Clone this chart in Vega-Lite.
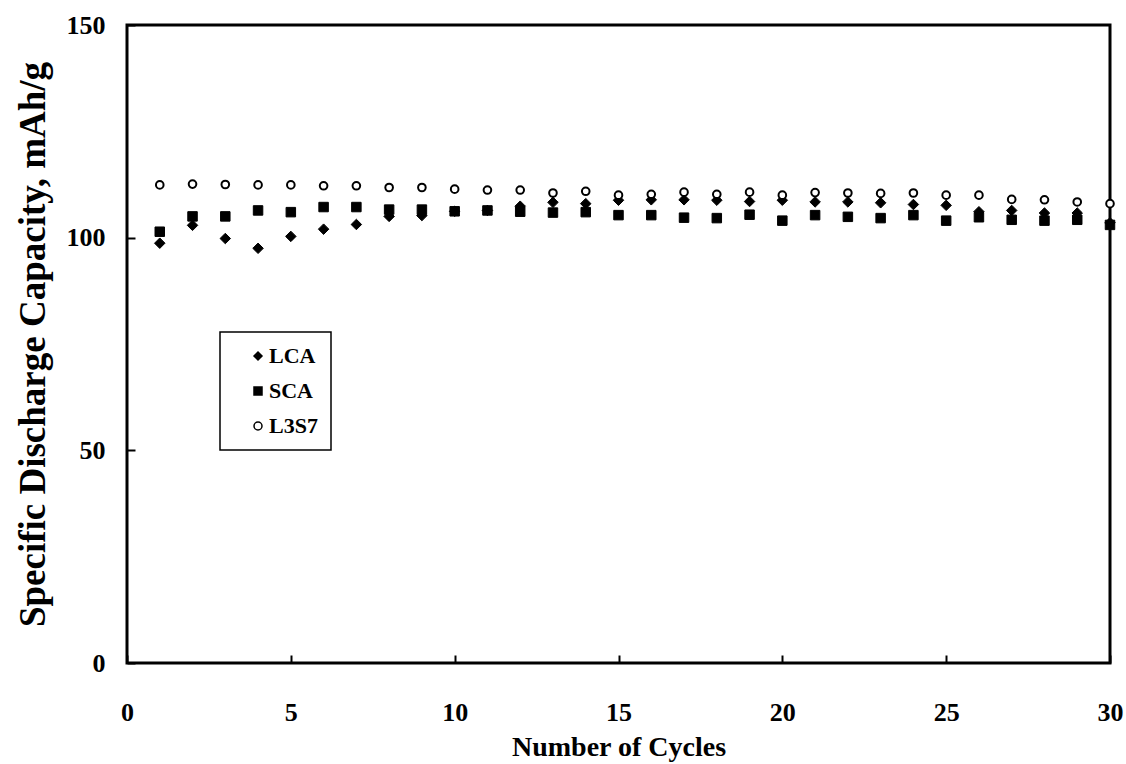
{
  "$schema": "https://vega.github.io/schema/vega-lite/v6.json",
  "width": 983,
  "height": 638,
  "autosize": {"type": "none"},
  "padding": {"left": 127, "top": 25, "right": 16, "bottom": 101},
  "background": "white",
  "config": {
    "font": "Liberation Serif",
    "view": {"stroke": "black", "strokeWidth": 3},
    "axis": {
      "domain": false,
      "grid": false,
      "labelFlush": false,
      "tickColor": "black",
      "tickWidth": 2,
      "tickSize": -8,
      "labelColor": "black",
      "labelFont": "Liberation Serif",
      "labelFontWeight": "bold",
      "labelFontSize": 26,
      "titleFont": "Liberation Serif",
      "titleFontWeight": "bold",
      "titleColor": "black"
    },
    "legend": {
      "orient": "none",
      "legendX": 93,
      "legendY": 307,
      "strokeColor": "black",
      "strokeWidth": 1.5,
      "fillColor": "white",
      "padding": 13,
      "rowPadding": 13,
      "symbolOffset": 14,
      "labelOffset": 0,
      "symbolSize": 64,
      "symbolStrokeColor": "black",
      "symbolStrokeWidth": 1.5,
      "labelFont": "Liberation Serif",
      "labelFontWeight": "bold",
      "labelFontSize": 22,
      "labelColor": "black"
    }
  },
  "data": {
    "values": [
      {"cycle": 1, "series": "LCA", "capacity": 98.7},
      {"cycle": 2, "series": "LCA", "capacity": 102.9},
      {"cycle": 3, "series": "LCA", "capacity": 99.8},
      {"cycle": 4, "series": "LCA", "capacity": 97.5},
      {"cycle": 5, "series": "LCA", "capacity": 100.3},
      {"cycle": 6, "series": "LCA", "capacity": 102.0},
      {"cycle": 7, "series": "LCA", "capacity": 103.1},
      {"cycle": 8, "series": "LCA", "capacity": 105.0},
      {"cycle": 9, "series": "LCA", "capacity": 105.2},
      {"cycle": 10, "series": "LCA", "capacity": 106.2},
      {"cycle": 11, "series": "LCA", "capacity": 106.4},
      {"cycle": 12, "series": "LCA", "capacity": 107.4},
      {"cycle": 13, "series": "LCA", "capacity": 108.3},
      {"cycle": 14, "series": "LCA", "capacity": 108.0},
      {"cycle": 15, "series": "LCA", "capacity": 108.8},
      {"cycle": 16, "series": "LCA", "capacity": 108.9},
      {"cycle": 17, "series": "LCA", "capacity": 108.9},
      {"cycle": 18, "series": "LCA", "capacity": 108.8},
      {"cycle": 19, "series": "LCA", "capacity": 108.5},
      {"cycle": 20, "series": "LCA", "capacity": 108.8},
      {"cycle": 21, "series": "LCA", "capacity": 108.4},
      {"cycle": 22, "series": "LCA", "capacity": 108.4},
      {"cycle": 23, "series": "LCA", "capacity": 108.2},
      {"cycle": 24, "series": "LCA", "capacity": 107.8},
      {"cycle": 25, "series": "LCA", "capacity": 107.6},
      {"cycle": 26, "series": "LCA", "capacity": 106.1},
      {"cycle": 27, "series": "LCA", "capacity": 106.4},
      {"cycle": 28, "series": "LCA", "capacity": 105.8},
      {"cycle": 29, "series": "LCA", "capacity": 105.8},
      {"cycle": 30, "series": "LCA", "capacity": 103.5},
      {"cycle": 1, "series": "SCA", "capacity": 101.4},
      {"cycle": 2, "series": "SCA", "capacity": 105.0},
      {"cycle": 3, "series": "SCA", "capacity": 105.0},
      {"cycle": 4, "series": "SCA", "capacity": 106.4},
      {"cycle": 5, "series": "SCA", "capacity": 106.0},
      {"cycle": 6, "series": "SCA", "capacity": 107.2},
      {"cycle": 7, "series": "SCA", "capacity": 107.2},
      {"cycle": 8, "series": "SCA", "capacity": 106.6},
      {"cycle": 9, "series": "SCA", "capacity": 106.6},
      {"cycle": 10, "series": "SCA", "capacity": 106.2},
      {"cycle": 11, "series": "SCA", "capacity": 106.4},
      {"cycle": 12, "series": "SCA", "capacity": 106.1},
      {"cycle": 13, "series": "SCA", "capacity": 105.9},
      {"cycle": 14, "series": "SCA", "capacity": 106.0},
      {"cycle": 15, "series": "SCA", "capacity": 105.3},
      {"cycle": 16, "series": "SCA", "capacity": 105.3},
      {"cycle": 17, "series": "SCA", "capacity": 104.7},
      {"cycle": 18, "series": "SCA", "capacity": 104.6},
      {"cycle": 19, "series": "SCA", "capacity": 105.4},
      {"cycle": 20, "series": "SCA", "capacity": 104.0},
      {"cycle": 21, "series": "SCA", "capacity": 105.3},
      {"cycle": 22, "series": "SCA", "capacity": 104.9},
      {"cycle": 23, "series": "SCA", "capacity": 104.6},
      {"cycle": 24, "series": "SCA", "capacity": 105.3},
      {"cycle": 25, "series": "SCA", "capacity": 104.0},
      {"cycle": 26, "series": "SCA", "capacity": 104.8},
      {"cycle": 27, "series": "SCA", "capacity": 104.2},
      {"cycle": 28, "series": "SCA", "capacity": 104.0},
      {"cycle": 29, "series": "SCA", "capacity": 104.2},
      {"cycle": 30, "series": "SCA", "capacity": 103.0},
      {"cycle": 1, "series": "L3S7", "capacity": 112.4},
      {"cycle": 2, "series": "L3S7", "capacity": 112.6},
      {"cycle": 3, "series": "L3S7", "capacity": 112.5},
      {"cycle": 4, "series": "L3S7", "capacity": 112.4},
      {"cycle": 5, "series": "L3S7", "capacity": 112.4},
      {"cycle": 6, "series": "L3S7", "capacity": 112.2},
      {"cycle": 7, "series": "L3S7", "capacity": 112.2},
      {"cycle": 8, "series": "L3S7", "capacity": 111.8},
      {"cycle": 9, "series": "L3S7", "capacity": 111.8},
      {"cycle": 10, "series": "L3S7", "capacity": 111.4},
      {"cycle": 11, "series": "L3S7", "capacity": 111.2},
      {"cycle": 12, "series": "L3S7", "capacity": 111.2},
      {"cycle": 13, "series": "L3S7", "capacity": 110.5},
      {"cycle": 14, "series": "L3S7", "capacity": 110.9},
      {"cycle": 15, "series": "L3S7", "capacity": 110.0},
      {"cycle": 16, "series": "L3S7", "capacity": 110.2},
      {"cycle": 17, "series": "L3S7", "capacity": 110.7},
      {"cycle": 18, "series": "L3S7", "capacity": 110.2},
      {"cycle": 19, "series": "L3S7", "capacity": 110.7},
      {"cycle": 20, "series": "L3S7", "capacity": 110.0},
      {"cycle": 21, "series": "L3S7", "capacity": 110.6},
      {"cycle": 22, "series": "L3S7", "capacity": 110.5},
      {"cycle": 23, "series": "L3S7", "capacity": 110.4},
      {"cycle": 24, "series": "L3S7", "capacity": 110.5},
      {"cycle": 25, "series": "L3S7", "capacity": 110.0},
      {"cycle": 26, "series": "L3S7", "capacity": 110.0},
      {"cycle": 27, "series": "L3S7", "capacity": 109.0},
      {"cycle": 28, "series": "L3S7", "capacity": 108.9},
      {"cycle": 29, "series": "L3S7", "capacity": 108.4},
      {"cycle": 30, "series": "L3S7", "capacity": 108.0}
    ]
  },
  "encoding": {
    "x": {
      "field": "cycle",
      "type": "quantitative",
      "scale": {"domain": [0, 30], "nice": false, "zero": false},
      "axis": {"values": [0, 5, 10, 15, 20, 25, 30], "title": "Number of Cycles", "titleFontSize": 28, "labelPadding": 44, "titlePadding": 8}
    },
    "y": {
      "field": "capacity",
      "type": "quantitative",
      "scale": {"domain": [0, 150], "nice": false},
      "axis": {"values": [0, 50, 100, 150], "title": "Specific Discharge Capacity, mAh/g", "titleFontSize": 37, "labelPadding": 30, "titlePadding": 14}
    },
    "shape": {
      "field": "series",
      "type": "nominal",
      "scale": {"domain": ["LCA", "SCA", "L3S7"], "range": ["diamond", "square", "circle"]},
      "legend": {"title": null, "labelExpr": "datum.label + '\u00a0\u00a0'"}
    },
    "fill": {
      "field": "series",
      "type": "nominal",
      "scale": {"domain": ["LCA", "SCA", "L3S7"], "range": ["black", "black", "white"]},
      "legend": {"title": null, "labelExpr": "datum.label + '\u00a0\u00a0'"}
    },
    "stroke": {
      "field": "series",
      "type": "nominal",
      "scale": {"domain": ["LCA", "SCA", "L3S7"], "range": ["black", "black", "black"]},
      "legend": {"title": null, "labelExpr": "datum.label + '\u00a0\u00a0'"}
    }
  },
  "layer": [
    {
      "transform": [{"filter": "datum.series === 'LCA'"}],
      "mark": {"type": "point", "filled": true, "strokeWidth": 1, "size": 110, "opacity": 1}
    },
    {
      "transform": [{"filter": "datum.series === 'SCA'"}],
      "mark": {"type": "point", "filled": true, "strokeWidth": 1, "size": 90, "opacity": 1}
    },
    {
      "transform": [{"filter": "datum.series === 'L3S7'"}],
      "mark": {"type": "point", "filled": true, "strokeWidth": 2, "size": 58, "opacity": 1}
    }
  ]
}
